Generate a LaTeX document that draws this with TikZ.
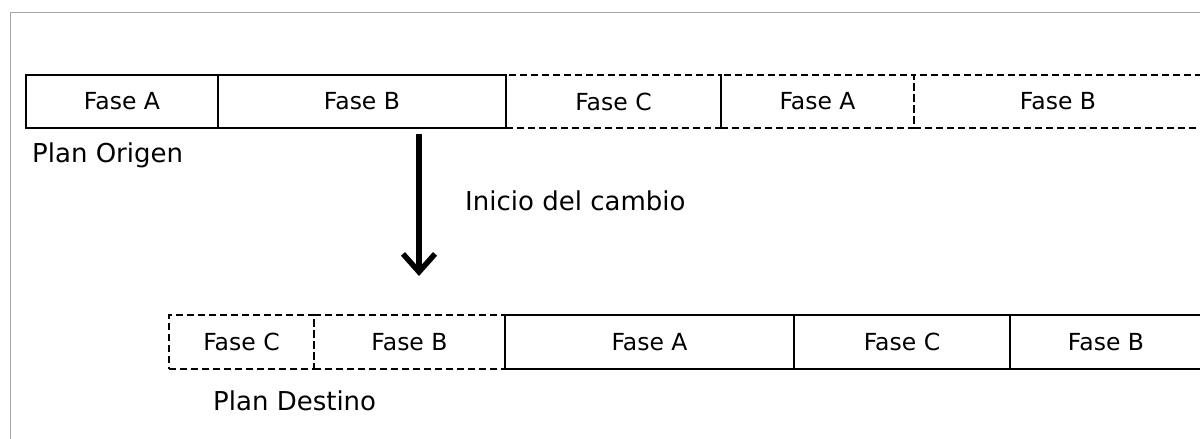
\documentclass[tikz,border=0pt]{standalone}
\usepackage{fontspec}
\setmainfont{DejaVu Sans}
\usetikzlibrary{arrows.meta}
\begin{document}
\begin{tikzpicture}[x=1pt,y=-1pt,
  phase/.style={draw=black, line width=2pt, rectangle, inner sep=0pt, anchor=north west,
    font=\fontsize{23.5}{28}\selectfont},
  solidbox/.style={phase},
  dashbox/.style={phase, dash pattern=on 7pt off 4pt},
  lbl/.style={anchor=base west, inner sep=0pt, font=\fontsize{26}{31}\selectfont}]
\useasboundingbox (0,0) rectangle (1200,439);
\draw[draw={rgb,255:red,165;green,165;blue,165}, line width=1.6pt] (10.5,460) -- (10.5,12.5) -- (1220,12.5);
% top row (dashed first)
\node[dashbox, minimum width=215pt, minimum height=53pt] (c1) at (505,74) {Fase C};
\node[dashbox, minimum width=193pt, minimum height=53pt] (a2) at (720,74) {Fase A};
\node[dashbox, minimum width=288pt, minimum height=53pt] (b2) at (913,74) {Fase B};
\node[solidbox, minimum width=192pt, minimum height=53pt] (a1) at (25,74) {Fase A};
\node[solidbox, minimum width=288pt, minimum height=53pt] (b1) at (217,74) {Fase B};
% bottom row
\node[dashbox, minimum width=145pt, minimum height=54pt] (c3) at (168,314) {Fase C};
\node[dashbox, minimum width=191pt, minimum height=54pt] (b3) at (313,314) {Fase B};
\node[solidbox, minimum width=289pt, minimum height=54pt] (a3) at (504,314) {Fase A};
\node[solidbox, minimum width=216pt, minimum height=54pt] (c4) at (793,314) {Fase C};
\node[solidbox, minimum width=192pt, minimum height=54pt] (b4) at (1009,314) {Fase B};
% labels
\node[lbl] (origen) at (32,162) {Plan Origen};
\node[lbl] (inicio) at (465,210) {Inicio del cambio};
\node[lbl] (destino) at (213,410) {Plan Destino};
% arrow
\coordinate (arrS) at (419,134);
\coordinate (arrE) at (419,276);
\draw[line width=5.5pt, -{Straight Barb[length=18pt,width=32pt]}] (arrS) -- (arrE);
\end{tikzpicture}
\end{document}
